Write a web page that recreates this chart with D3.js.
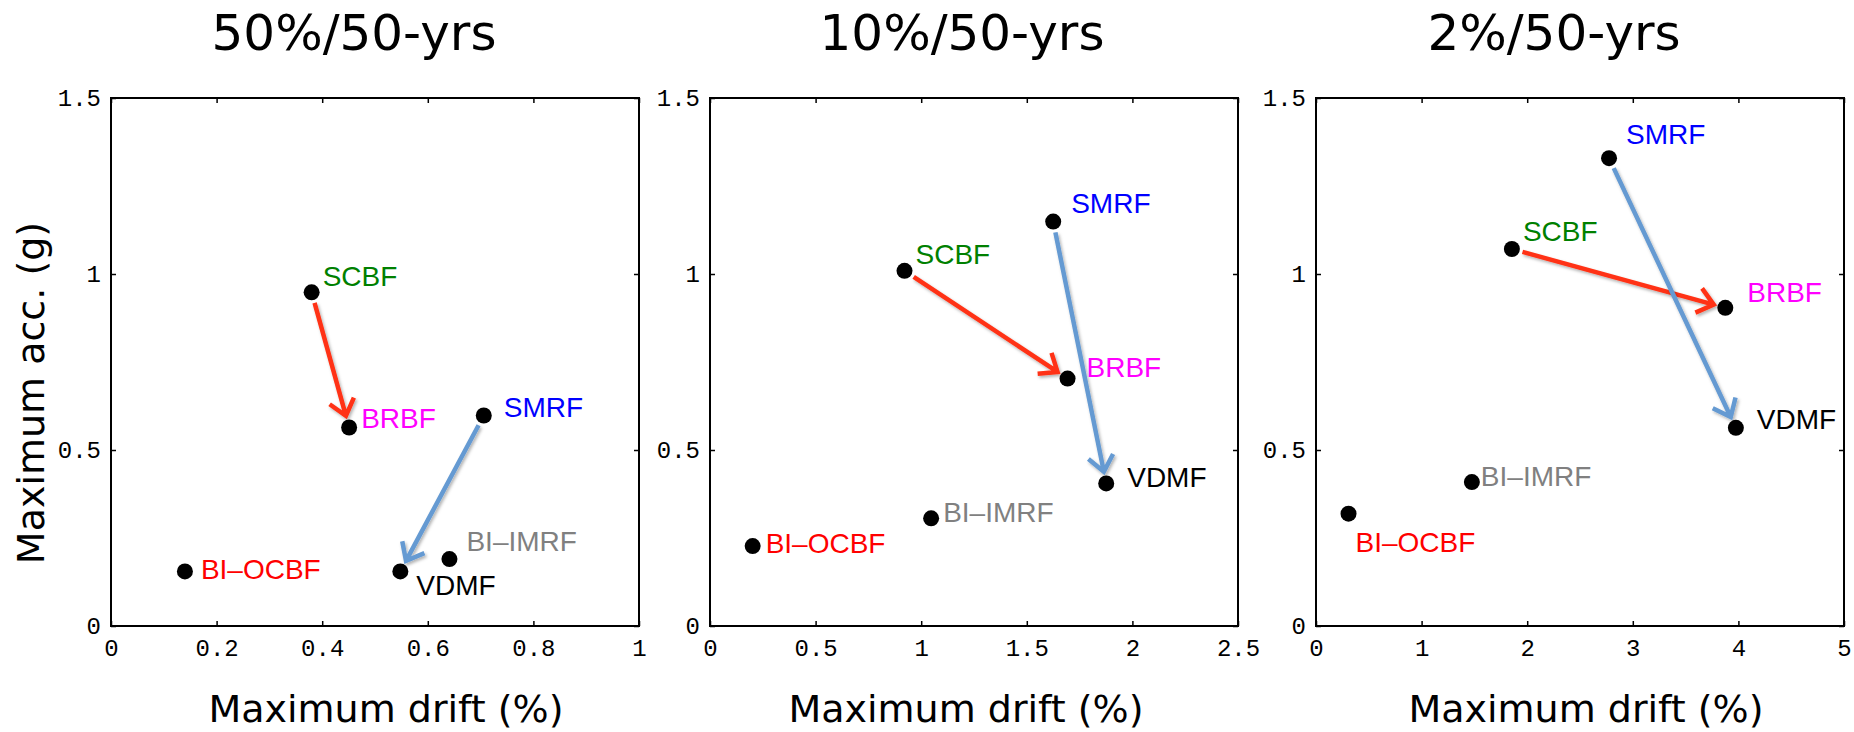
<!DOCTYPE html>
<html>
<head>
<meta charset="utf-8">
<script src="https://cdn.jsdelivr.net/npm/d3@7"></script>
<style>
  body { margin: 0; background: #fff; }
  .tick text { font-family: "Liberation Mono", "DejaVu Sans Mono", monospace; font-size: 24px; fill: #000; }
  .tick line { stroke: #000; stroke-width: 1.5; }
  .title { font-family: "DejaVu Sans", sans-serif; font-size: 50px; }
  .aLabel { font-family: "DejaVu Sans", sans-serif; font-size: 38px; }
  .sysLabel { font-family: "Liberation Sans", Arial, sans-serif; font-size: 28px; }
</style>
</head>
<body>
<div id="chart"></div>
<script>
// data
var panels = ["50%/50-yrs", "10%/50-yrs", "2%/50-yrs"];
var systems = ["SCBF", "BRBF", "SMRF", "BI\u2013IMRF", "VDMF", "BI\u2013OCBF"];
var colors = ["#008000", "#ff00ff", "#0000ff", "#808080", "#000000", "#ff0000"];

var drift50 = [0.380, 0.451, 0.706, 0.641, 0.548, 0.140];
var acc50   = [0.948, 0.564, 0.598, 0.190, 0.155, 0.155];
var drift10 = [0.921, 1.693, 1.625, 1.047, 1.876, 0.202];
var acc10   = [1.009, 0.703, 1.149, 0.306, 0.405, 0.227];
var drift2  = [1.855, 3.876, 2.775, 1.476, 3.976, 0.308];
var acc2    = [1.071, 0.904, 1.329, 0.409, 0.563, 0.319];

var xMaxes = [1, 2.5, 5];
var xTickVals = [[0, 0.2, 0.4, 0.6, 0.8, 1], [0, 0.5, 1, 1.5, 2, 2.5], [0, 1, 2, 3, 4, 5]];
var yTickVals = [0, 0.5, 1, 1.5];

// arrows: from system index -> to system index
var arrows = [[0, 1, "#ff3214"], [2, 4, "#659ad2"]];

// layout
var width = 1854, height = 732;
var plotLeft = [111, 710, 1316];
var plotTop = 98;
var size = 528;
var titleX = [354, 962, 1554];
var xLabelX = [386, 966, 1586];

// label offsets (dx, dy) from each dot, per panel
var labelOffsets = [
    [[11, -6], [12, 1], [20, 1], [17, -8], [16, 24], [16, 8]],
    [[11, -7], [19, -2], [18, -9], [12, 4], [21, 4], [13, 7]],
    [[11, -8], [22, -6], [17, -14], [9, 4], [21, 1], [7, 38]]
];

var svg = d3.select("#chart")
    .append("svg")
    .attr("width", width)
    .attr("height", height);

var defs = svg.append("defs");
defs.append("filter")
    .attr("id", "shadow")
    .attr("x", "-20%").attr("y", "-20%")
    .attr("width", "140%").attr("height", "140%")
    .append("feDropShadow")
    .attr("dx", 1.5).attr("dy", 2)
    .attr("stdDeviation", 1.5)
    .attr("flood-color", "#000")
    .attr("flood-opacity", 0.3);

var allData = [[drift50, acc50], [drift10, acc10], [drift2, acc2]];

function fmt(d) {
    return String(d);
}

allData.forEach(function(pair, p) {
    var xs = pair[0], ys = pair[1];

    var x = d3.scaleLinear().domain([0, xMaxes[p]]).range([0, size]);
    var y = d3.scaleLinear().domain([0, 1.5]).range([size, 0]);

    var g = svg.append("g")
        .attr("transform", "translate(" + plotLeft[p] + "," + plotTop + ")");

    // axes with inward ticks on all four sides
    g.append("g")
        .attr("transform", "translate(0," + size + ")")
        .call(d3.axisBottom(x).tickValues(xTickVals[p]).tickFormat(fmt)
            .tickSizeInner(-5).tickSizeOuter(0).tickPadding(13))
        .call(function(a) { a.select(".domain").remove(); });

    g.append("g")
        .call(d3.axisLeft(y).tickValues(yTickVals).tickFormat(fmt)
            .tickSizeInner(-5).tickSizeOuter(0).tickPadding(10))
        .call(function(a) { a.select(".domain").remove(); });

    g.append("g")
        .call(d3.axisTop(x).tickValues(xTickVals[p]).tickFormat("")
            .tickSizeInner(-5).tickSizeOuter(0))
        .call(function(a) { a.select(".domain").remove(); });

    g.append("g")
        .attr("transform", "translate(" + size + ",0)")
        .call(d3.axisRight(y).tickValues(yTickVals).tickFormat("")
            .tickSizeInner(-5).tickSizeOuter(0))
        .call(function(a) { a.select(".domain").remove(); });

    g.append("rect")
        .attr("width", size)
        .attr("height", size)
        .attr("fill", "none")
        .attr("stroke", "#000")
        .attr("stroke-width", 2);

    // title
    svg.append("text")
        .attr("class", "title")
        .attr("x", titleX[p])
        .attr("y", 50)
        .attr("text-anchor", "middle")
        .text(panels[p]);

    // x label
    svg.append("text")
        .attr("class", "aLabel")
        .attr("x", xLabelX[p])
        .attr("y", 722)
        .attr("text-anchor", "middle")
        .text("Maximum drift (%)");

    // arrows
    arrows.forEach(function(ar) {
        var x0 = x(xs[ar[0]]), y0 = y(ys[ar[0]]);
        var x1 = x(xs[ar[1]]), y1 = y(ys[ar[1]]);
        var len = Math.sqrt((x1 - x0) * (x1 - x0) + (y1 - y0) * (y1 - y0));
        var ux = (x1 - x0) / len, uy = (y1 - y0) / len;
        var sx = x0 + ux * 11, sy = y0 + uy * 11;
        var ex = x1 - ux * 12, ey = y1 - uy * 12;
        var arm = 20, ang = 0.68;
        var ca = Math.cos(ang), sa = Math.sin(ang);
        var ax1 = ex - arm * (ux * ca - uy * sa), ay1 = ey - arm * (uy * ca + ux * sa);
        var ax2 = ex - arm * (ux * ca + uy * sa), ay2 = ey - arm * (uy * ca - ux * sa);
        var path = d3.path();
        path.moveTo(sx, sy);
        path.lineTo(ex, ey);
        path.moveTo(ax1, ay1);
        path.lineTo(ex, ey);
        path.lineTo(ax2, ay2);
        g.append("path")
            .attr("d", path.toString())
            .attr("fill", "none")
            .attr("stroke", ar[2])
            .attr("stroke-width", 4.5)
            .attr("stroke-linejoin", "miter")
            .attr("filter", "url(#shadow)");
    });

    // dots
    g.selectAll("circle")
        .data(systems)
        .enter()
        .append("circle")
        .attr("cx", function(d, i) { return x(xs[i]); })
        .attr("cy", function(d, i) { return y(ys[i]); })
        .attr("r", 8)
        .attr("fill", "#000");

    // system labels
    g.selectAll(".sysLabel")
        .data(systems)
        .enter()
        .append("text")
        .attr("class", "sysLabel")
        .attr("x", function(d, i) { return x(xs[i]) + labelOffsets[p][i][0]; })
        .attr("y", function(d, i) { return y(ys[i]) + labelOffsets[p][i][1]; })
        .attr("fill", function(d, i) { return colors[i]; })
        .text(function(d) { return d; });
});

// y label, first panel only
svg.append("text")
    .attr("class", "aLabel")
    .attr("transform", "translate(44,393)rotate(-90)")
    .attr("text-anchor", "middle")
    .text("Maximum acc. (g)");
</script>
</body>
</html>
